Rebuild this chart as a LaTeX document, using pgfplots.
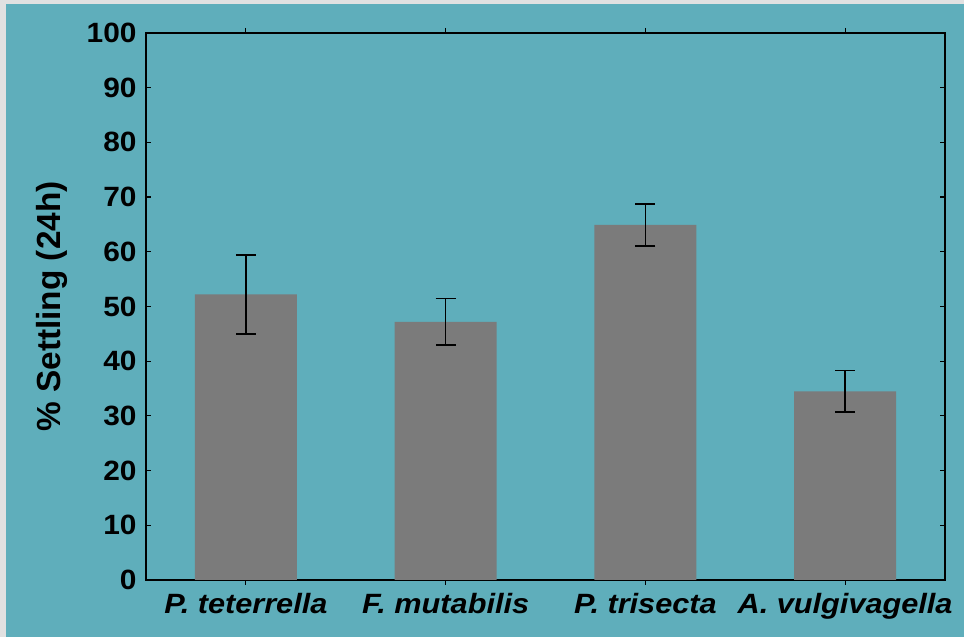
\documentclass[border=0pt]{standalone}
\usepackage{fontspec}
\setmainfont{Liberation Sans}
\usepackage{pgfplots}
\pgfplotsset{compat=1.18}
\definecolor{bgteal}{RGB}{95,174,187}
\definecolor{bargray}{RGB}{123,123,123}
\definecolor{edge}{RGB}{225,225,225}
\begin{document}
\begin{tikzpicture}
\fill[bgteal] (0,0) rectangle (964bp,637bp);
\fill[edge] (0,0) rectangle (6bp,637bp);
\fill[edge] (0,633bp) rectangle (964bp,637bp);
\begin{axis}[
  at={(146bp,57bp)}, anchor=south west,
  scale only axis, width=799bp, height=547bp,
  xmin=-0.5, xmax=3.5, ymin=0, ymax=100,
  xtick={0,1,2,3},
  xticklabels={P. teterrella, F. mutabilis, P. trisecta, A. vulgivagella},
  ytick={0,10,...,100},
  tick align=inside,
  major tick length=5bp,
  tick style={line width=1.2bp, black},
  axis line style={line width=1.5bp},
  /pgf/number format/assume math mode=true,
  yticklabel style={xshift=-6bp, font=\fontsize{28}{30}\selectfont\bfseries\addfontfeature{FakeStretch=1.07}},
  xticklabel style={yshift=-5bp, font=\fontsize{28}{30}\selectfont\bfseries\itshape\addfontfeature{FakeStretch=1.1}},
  ylabel={\% Settling (24h)},
  every axis y label/.style={at={(axis description cs:-0.1176,0.5)}, rotate=90, anchor=center, font=\fontsize{33.5}{36}\selectfont\bfseries},
  ybar, bar width=102bp,
  axis background/.style={fill=bgteal},
]
\addplot[fill=bargray, draw=none,
  error bars/.cd, y dir=both, y explicit,
  error bar style={line width=1.5bp, black},
  error mark options={rotate=90, line width=1.5bp, mark size=10bp, black}]
table[x=x, y=y, y error=e] {
x y e
0 52.2 7.2
1 47.2 4.25
2 64.9 3.8
3 34.5 3.8
};
\end{axis}
\end{tikzpicture}
\end{document}
